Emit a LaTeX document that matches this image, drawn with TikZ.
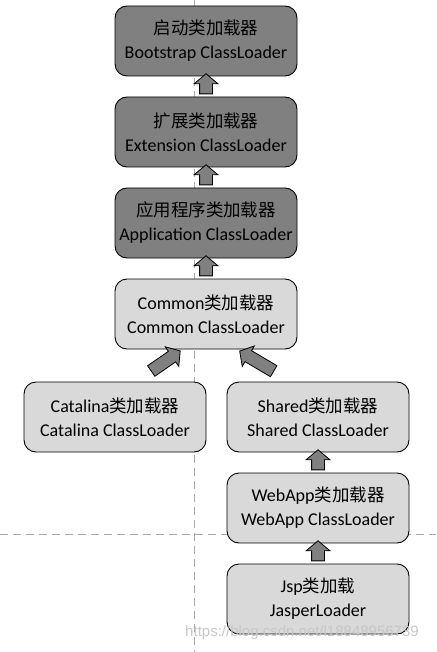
\documentclass[tikz,border=0pt]{standalone}
\usepackage{fontspec}
\setmainfont{Carlito}
\newfontfamily\cjk[Scale=0.97]{Noto Sans CJK SC}
\newfontfamily\filigrane{Liberation Sans}
\usetikzlibrary{shapes.arrows,calc}
\newcommand{\zh}[1]{{\cjk #1}}
\begin{document}
\begin{tikzpicture}[x=1pt,y=-1pt]
			\definecolor{grisfonce}{RGB}{128,128,128}
			\definecolor{grisclair}{RGB}{217,217,217}
			\definecolor{grispointille}{RGB}{170,170,170}
			\tikzstyle{boite}=[draw=black,line width=0.9pt,rounded corners=12pt,minimum width=182pt,minimum height=70pt,inner sep=0pt,align=center,font=\fontsize{18}{24}\selectfont]
			\tikzstyle{sombre}=[boite,fill=grisfonce]
			\tikzstyle{clair}=[boite,fill=grisclair]
			\tikzstyle{fleche}=[draw=black,line width=0.8pt,fill=grisfonce,single arrow,single arrow head extend=5.5pt,single arrow tip angle=100,single arrow head indent=0pt,inner xsep=0pt,inner ysep=6pt,outer sep=0pt]
			\tikzstyle{pointilles}=[grispointille,line width=0.9pt,dash pattern=on 8pt off 5pt]
			\def\FlecheBloc#1#2{\path let \p1=(#1), \p2=(#2), \n1={atan2(\y2-\y1,\x2-\x1)}, \n2={veclen(\x2-\x1,\y2-\y1)} in node[fleche,minimum height=\n2,rotate=\n1] at ($(\p1)!0.5!(\p2)$) {};}
			\def\DistanceInterNiveaux{91}
			\def\ColonneA{206}\def\ColonneB{115}\def\ColonneC{318}
			\def\NiveauA{41+(0)*\DistanceInterNiveaux}\def\NiveauB{41+(1)*\DistanceInterNiveaux}
			\def\NiveauC{41+(2)*\DistanceInterNiveaux}\def\NiveauD{41+(3)*\DistanceInterNiveaux}
			\def\NiveauE{417}\def\NiveauF{417+(1)*\DistanceInterNiveaux}\def\NiveauG{417+(2)*\DistanceInterNiveaux}
			\useasboundingbox (0,0) rectangle (436,652);
			\coordinate (Haut) at (194,0) ; \coordinate (Bas) at (194,652) ;
			\coordinate (Gauche) at (0,534) ; \coordinate (Droite) at (436,534) ;
			\draw[pointilles] (Haut)--(Bas) ; \draw[pointilles] (Gauche)--(Droite) ;
			\node[sombre] (Bootstrap) at ({\ColonneA},{\NiveauA}) {\zh{启动类加载器}\\Bootstrap ClassLoader};
			\node[sombre] (Extension) at ({\ColonneA},{\NiveauB}) {\zh{扩展类加载器}\\Extension ClassLoader};
			\node[sombre] (Application) at ({\ColonneA},{\NiveauC}) {\zh{应用程序类加载器}\\Application ClassLoader};
			\node[clair] (Common) at ({\ColonneA},{\NiveauD}) {Common\zh{类加载器}\\Common ClassLoader};
			\node[clair] (Catalina) at ({\ColonneB},{\NiveauE}) {Catalina\zh{类加载器}\\Catalina ClassLoader};
			\node[clair] (Shared) at ({\ColonneC},{\NiveauE}) {Shared\zh{类加载器}\\Shared ClassLoader};
			\node[clair] (WebApp) at ({\ColonneC},{\NiveauF}) {WebApp\zh{类加载器}\\WebApp ClassLoader};
			\node[clair] (Jsp) at ({\ColonneC},{\NiveauG}) {Jsp\zh{类加载}\\JasperLoader};
			\coordinate (BaseCatalina) at ($(Catalina.north)+(34,-9)$) ;
			\coordinate (PointeCatalina) at ($(Common.south)+(-28,3)$) ;
			\coordinate (BaseShared) at ($(Shared.north)+(-42,-9)$) ;
			\coordinate (PointeShared) at ($(Common.south)+(36,3)$) ;
			\FlecheBloc{Extension.north}{Bootstrap.south} \FlecheBloc{Application.north}{Extension.south}
			\FlecheBloc{Common.north}{Application.south} \FlecheBloc{BaseCatalina}{PointeCatalina}
			\FlecheBloc{BaseShared}{PointeShared} \FlecheBloc{WebApp.north}{Shared.south}
			\FlecheBloc{Jsp.north}{WebApp.south}
			\node[text=black!22,font=\filigrane\fontsize{15}{15}\selectfont] (Filigrane) at (302,633) {https://blog.csdn.net/l18848956739};
		\end{tikzpicture}
\end{document}
